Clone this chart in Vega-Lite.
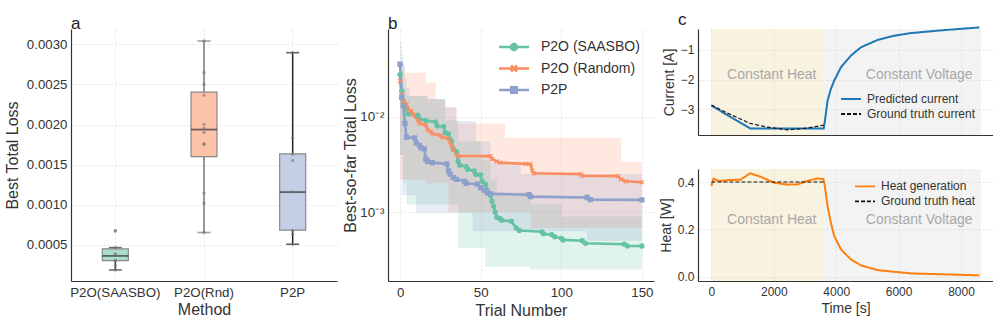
{
  "$schema": "https://vega.github.io/schema/vega-lite/v6.json",
  "background": "white",
  "padding": {"left": 4, "top": 10, "right": 0, "bottom": 0},
  "spacing": 5,
  "config": {
    "font": "Liberation Sans",
    "view": {"stroke": null},
    "axis": {
      "domainColor": "#333333", "domainWidth": 1.2, "ticks": false,
      "labelColor": "#333333", "titleColor": "#333333",
      "labelFont": "Liberation Sans", "titleFont": "Liberation Sans",
      "titleFontWeight": "normal", "labelFontSize": 13.3, "titleFontSize": 16,
      "gridColor": "#dddddd", "gridDash": [2, 2], "gridWidth": 0.8
    },
    "title": {"font": "Liberation Sans", "fontSize": 17, "fontWeight": "normal", "color": "#222222", "anchor": "start"}
  },
  "datasets": {
    "boxes": [
      {"method": "P2O(SAASBO)", "lo": 0.000188, "q1": 0.000304, "med": 0.000363, "q3": 0.00045, "hi": 0.000466},
      {"method": "P2O(Rnd)", "lo": 0.000654, "q1": 0.0016, "med": 0.001937, "q3": 0.002404, "hi": 0.00304},
      {"method": "P2P", "lo": 0.000508, "q1": 0.000683, "med": 0.001158, "q3": 0.001633, "hi": 0.002895}
    ],
    "runs": [
      {"method": "P2O(SAASBO)", "loss": 0.000675}, {"method": "P2O(SAASBO)", "loss": 0.000672},
      {"method": "P2O(SAASBO)", "loss": 0.000466}, {"method": "P2O(SAASBO)", "loss": 0.00039},
      {"method": "P2O(SAASBO)", "loss": 0.00037}, {"method": "P2O(SAASBO)", "loss": 0.00031},
      {"method": "P2O(SAASBO)", "loss": 0.0003}, {"method": "P2O(SAASBO)", "loss": 0.000241},
      {"method": "P2O(SAASBO)", "loss": 0.000188},
      {"method": "P2O(Rnd)", "loss": 0.00304}, {"method": "P2O(Rnd)", "loss": 0.002645},
      {"method": "P2O(Rnd)", "loss": 0.0025}, {"method": "P2O(Rnd)", "loss": 0.002366},
      {"method": "P2O(Rnd)", "loss": 0.002}, {"method": "P2O(Rnd)", "loss": 0.00195},
      {"method": "P2O(Rnd)", "loss": 0.0019}, {"method": "P2O(Rnd)", "loss": 0.00176},
      {"method": "P2O(Rnd)", "loss": 0.00175}, {"method": "P2O(Rnd)", "loss": 0.001145},
      {"method": "P2O(Rnd)", "loss": 0.00102}, {"method": "P2O(Rnd)", "loss": 0.000654},
      {"method": "P2P", "loss": 0.002895}, {"method": "P2P", "loss": 0.001833},
      {"method": "P2P", "loss": 0.00163}, {"method": "P2P", "loss": 0.00155},
      {"method": "P2P", "loss": 0.00116}, {"method": "P2P", "loss": 0.00068},
      {"method": "P2P", "loss": 0.00063}, {"method": "P2P", "loss": 0.000508}
    ],
    "trace": [
      {"method": "P2O (SAASBO)", "trial": 0, "loss": 0.0276},
      {"method": "P2O (SAASBO)", "trial": 1, "loss": 0.0185},
      {"method": "P2O (SAASBO)", "trial": 2, "loss": 0.0146},
      {"method": "P2O (SAASBO)", "trial": 3, "loss": 0.0125},
      {"method": "P2O (SAASBO)", "trial": 5, "loss": 0.0107},
      {"method": "P2O (SAASBO)", "trial": 11, "loss": 0.0104},
      {"method": "P2O (SAASBO)", "trial": 12, "loss": 0.0095},
      {"method": "P2O (SAASBO)", "trial": 16, "loss": 0.0091},
      {"method": "P2O (SAASBO)", "trial": 22, "loss": 0.0088},
      {"method": "P2O (SAASBO)", "trial": 23, "loss": 0.008},
      {"method": "P2O (SAASBO)", "trial": 27, "loss": 0.0079},
      {"method": "P2O (SAASBO)", "trial": 28, "loss": 0.0068},
      {"method": "P2O (SAASBO)", "trial": 30, "loss": 0.0066},
      {"method": "P2O (SAASBO)", "trial": 31, "loss": 0.0058},
      {"method": "P2O (SAASBO)", "trial": 32, "loss": 0.0055},
      {"method": "P2O (SAASBO)", "trial": 33, "loss": 0.0046},
      {"method": "P2O (SAASBO)", "trial": 35, "loss": 0.0043},
      {"method": "P2O (SAASBO)", "trial": 36, "loss": 0.0034},
      {"method": "P2O (SAASBO)", "trial": 37, "loss": 0.0031},
      {"method": "P2O (SAASBO)", "trial": 41, "loss": 0.003},
      {"method": "P2O (SAASBO)", "trial": 42, "loss": 0.0028},
      {"method": "P2O (SAASBO)", "trial": 46, "loss": 0.0027},
      {"method": "P2O (SAASBO)", "trial": 47, "loss": 0.00248},
      {"method": "P2O (SAASBO)", "trial": 50, "loss": 0.00245},
      {"method": "P2O (SAASBO)", "trial": 51, "loss": 0.0021},
      {"method": "P2O (SAASBO)", "trial": 53, "loss": 0.00195},
      {"method": "P2O (SAASBO)", "trial": 54, "loss": 0.0017},
      {"method": "P2O (SAASBO)", "trial": 56, "loss": 0.0015},
      {"method": "P2O (SAASBO)", "trial": 57, "loss": 0.0013},
      {"method": "P2O (SAASBO)", "trial": 58, "loss": 0.00115},
      {"method": "P2O (SAASBO)", "trial": 59, "loss": 0.001},
      {"method": "P2O (SAASBO)", "trial": 60, "loss": 0.00088},
      {"method": "P2O (SAASBO)", "trial": 62, "loss": 0.00085},
      {"method": "P2O (SAASBO)", "trial": 63, "loss": 0.00082},
      {"method": "P2O (SAASBO)", "trial": 69, "loss": 0.0008},
      {"method": "P2O (SAASBO)", "trial": 72, "loss": 0.00068},
      {"method": "P2O (SAASBO)", "trial": 74, "loss": 0.00064},
      {"method": "P2O (SAASBO)", "trial": 88, "loss": 0.00062},
      {"method": "P2O (SAASBO)", "trial": 89, "loss": 0.00059},
      {"method": "P2O (SAASBO)", "trial": 94, "loss": 0.00058},
      {"method": "P2O (SAASBO)", "trial": 96, "loss": 0.00055},
      {"method": "P2O (SAASBO)", "trial": 100, "loss": 0.00053},
      {"method": "P2O (SAASBO)", "trial": 101, "loss": 0.00051},
      {"method": "P2O (SAASBO)", "trial": 113, "loss": 0.0005},
      {"method": "P2O (SAASBO)", "trial": 115, "loss": 0.00047},
      {"method": "P2O (SAASBO)", "trial": 139, "loss": 0.00046},
      {"method": "P2O (SAASBO)", "trial": 141, "loss": 0.00044},
      {"method": "P2O (SAASBO)", "trial": 150, "loss": 0.00044},
      {"method": "P2O (Random)", "trial": 0, "loss": 0.0237},
      {"method": "P2O (Random)", "trial": 1, "loss": 0.017},
      {"method": "P2O (Random)", "trial": 2, "loss": 0.0145},
      {"method": "P2O (Random)", "trial": 4, "loss": 0.0135},
      {"method": "P2O (Random)", "trial": 5, "loss": 0.012},
      {"method": "P2O (Random)", "trial": 7, "loss": 0.0115},
      {"method": "P2O (Random)", "trial": 8, "loss": 0.0105},
      {"method": "P2O (Random)", "trial": 11, "loss": 0.0092},
      {"method": "P2O (Random)", "trial": 12, "loss": 0.0085},
      {"method": "P2O (Random)", "trial": 16, "loss": 0.0082},
      {"method": "P2O (Random)", "trial": 17, "loss": 0.0073},
      {"method": "P2O (Random)", "trial": 19, "loss": 0.007},
      {"method": "P2O (Random)", "trial": 20, "loss": 0.0066},
      {"method": "P2O (Random)", "trial": 25, "loss": 0.0064},
      {"method": "P2O (Random)", "trial": 26, "loss": 0.0061},
      {"method": "P2O (Random)", "trial": 30, "loss": 0.0059},
      {"method": "P2O (Random)", "trial": 31, "loss": 0.0054},
      {"method": "P2O (Random)", "trial": 32, "loss": 0.005},
      {"method": "P2O (Random)", "trial": 33, "loss": 0.0045},
      {"method": "P2O (Random)", "trial": 35, "loss": 0.004},
      {"method": "P2O (Random)", "trial": 36, "loss": 0.00388},
      {"method": "P2O (Random)", "trial": 56, "loss": 0.00386},
      {"method": "P2O (Random)", "trial": 57, "loss": 0.0036},
      {"method": "P2O (Random)", "trial": 60, "loss": 0.0034},
      {"method": "P2O (Random)", "trial": 62, "loss": 0.0033},
      {"method": "P2O (Random)", "trial": 78, "loss": 0.0032},
      {"method": "P2O (Random)", "trial": 81, "loss": 0.00318},
      {"method": "P2O (Random)", "trial": 82, "loss": 0.0027},
      {"method": "P2O (Random)", "trial": 83, "loss": 0.00255},
      {"method": "P2O (Random)", "trial": 112, "loss": 0.0025},
      {"method": "P2O (Random)", "trial": 113, "loss": 0.0024},
      {"method": "P2O (Random)", "trial": 135, "loss": 0.00238},
      {"method": "P2O (Random)", "trial": 137, "loss": 0.0022},
      {"method": "P2O (Random)", "trial": 140, "loss": 0.0021},
      {"method": "P2O (Random)", "trial": 150, "loss": 0.00205},
      {"method": "P2P", "trial": 0, "loss": 0.0355},
      {"method": "P2P", "trial": 1, "loss": 0.016},
      {"method": "P2P", "trial": 2, "loss": 0.013},
      {"method": "P2P", "trial": 3, "loss": 0.0085},
      {"method": "P2P", "trial": 4, "loss": 0.0061},
      {"method": "P2P", "trial": 9, "loss": 0.006},
      {"method": "P2P", "trial": 10, "loss": 0.0053},
      {"method": "P2P", "trial": 12, "loss": 0.005},
      {"method": "P2P", "trial": 13, "loss": 0.0047},
      {"method": "P2P", "trial": 15, "loss": 0.0046},
      {"method": "P2P", "trial": 16, "loss": 0.0036},
      {"method": "P2P", "trial": 17, "loss": 0.0034},
      {"method": "P2P", "trial": 20, "loss": 0.0033},
      {"method": "P2P", "trial": 29, "loss": 0.0032},
      {"method": "P2P", "trial": 30, "loss": 0.0027},
      {"method": "P2P", "trial": 31, "loss": 0.0025},
      {"method": "P2P", "trial": 33, "loss": 0.0023},
      {"method": "P2P", "trial": 35, "loss": 0.0022},
      {"method": "P2P", "trial": 40, "loss": 0.0021},
      {"method": "P2P", "trial": 41, "loss": 0.002},
      {"method": "P2P", "trial": 48, "loss": 0.00196},
      {"method": "P2P", "trial": 50, "loss": 0.0018},
      {"method": "P2P", "trial": 52, "loss": 0.0017},
      {"method": "P2P", "trial": 54, "loss": 0.0016},
      {"method": "P2P", "trial": 56, "loss": 0.00155},
      {"method": "P2P", "trial": 80, "loss": 0.00152},
      {"method": "P2P", "trial": 81, "loss": 0.00145},
      {"method": "P2P", "trial": 116, "loss": 0.00142},
      {"method": "P2P", "trial": 118, "loss": 0.00135},
      {"method": "P2P", "trial": 150, "loss": 0.00134}
    ],
    "bands": [
      {"method": "P2O (SAASBO)", "trial": 0, "lo": 0.004, "hi": 0.03},
      {"method": "P2O (SAASBO)", "trial": 2, "lo": 0.002, "hi": 0.02},
      {"method": "P2O (SAASBO)", "trial": 4, "lo": 0.0012, "hi": 0.0165},
      {"method": "P2O (SAASBO)", "trial": 17, "lo": 0.0012, "hi": 0.0153},
      {"method": "P2O (SAASBO)", "trial": 28, "lo": 0.0012, "hi": 0.0092},
      {"method": "P2O (SAASBO)", "trial": 36, "lo": 0.00042, "hi": 0.0055},
      {"method": "P2O (SAASBO)", "trial": 50, "lo": 0.00042, "hi": 0.0035},
      {"method": "P2O (SAASBO)", "trial": 53, "lo": 0.000266, "hi": 0.0035},
      {"method": "P2O (SAASBO)", "trial": 56, "lo": 0.000266, "hi": 0.0022},
      {"method": "P2O (SAASBO)", "trial": 60, "lo": 0.000266, "hi": 0.0016},
      {"method": "P2O (SAASBO)", "trial": 81, "lo": 0.00025, "hi": 0.0012},
      {"method": "P2O (SAASBO)", "trial": 100, "lo": 0.00025, "hi": 0.0009},
      {"method": "P2O (SAASBO)", "trial": 150, "lo": 0.00025, "hi": 0.0009},
      {"method": "P2O (Random)", "trial": 0, "lo": 0.0022, "hi": 0.033},
      {"method": "P2O (Random)", "trial": 3, "lo": 0.0022, "hi": 0.029},
      {"method": "P2O (Random)", "trial": 16, "lo": 0.002, "hi": 0.0227},
      {"method": "P2O (Random)", "trial": 22, "lo": 0.002, "hi": 0.015},
      {"method": "P2O (Random)", "trial": 28, "lo": 0.002, "hi": 0.0125},
      {"method": "P2O (Random)", "trial": 30, "lo": 0.001, "hi": 0.0125},
      {"method": "P2O (Random)", "trial": 35, "lo": 0.001, "hi": 0.0085},
      {"method": "P2O (Random)", "trial": 65, "lo": 0.001, "hi": 0.006},
      {"method": "P2O (Random)", "trial": 81, "lo": 0.00068, "hi": 0.006},
      {"method": "P2O (Random)", "trial": 137, "lo": 0.00068, "hi": 0.00335},
      {"method": "P2O (Random)", "trial": 150, "lo": 0.00068, "hi": 0.00335},
      {"method": "P2P", "trial": 0, "lo": 0.004, "hi": 0.062},
      {"method": "P2P", "trial": 1, "lo": 0.0015, "hi": 0.045},
      {"method": "P2P", "trial": 2, "lo": 0.0015, "hi": 0.035},
      {"method": "P2P", "trial": 3, "lo": 0.0015, "hi": 0.025},
      {"method": "P2P", "trial": 4, "lo": 0.0015, "hi": 0.02},
      {"method": "P2P", "trial": 6, "lo": 0.0015, "hi": 0.0166},
      {"method": "P2P", "trial": 10, "lo": 0.00098, "hi": 0.0166},
      {"method": "P2P", "trial": 17, "lo": 0.00098, "hi": 0.0153},
      {"method": "P2P", "trial": 28, "lo": 0.00098, "hi": 0.0126},
      {"method": "P2P", "trial": 35, "lo": 0.00098, "hi": 0.009},
      {"method": "P2P", "trial": 45, "lo": 0.00063, "hi": 0.009},
      {"method": "P2P", "trial": 47, "lo": 0.00063, "hi": 0.0055},
      {"method": "P2P", "trial": 56, "lo": 0.00063, "hi": 0.0033},
      {"method": "P2P", "trial": 75, "lo": 0.00063, "hi": 0.0025},
      {"method": "P2P", "trial": 116, "lo": 0.0005, "hi": 0.0025},
      {"method": "P2P", "trial": 150, "lo": 0.0005, "hi": 0.0025}
    ],
    "phases": [
      {"phase": "Constant Heat", "start": 0, "end": 3600},
      {"phase": "Constant Voltage", "start": 3600, "end": 8640}
    ],
    "annot": [
      {"panel": "current", "label": "Constant Heat", "time": 500, "value": -1.85},
      {"panel": "current", "label": "Constant Voltage", "time": 4950, "value": -1.85},
      {"panel": "heat", "label": "Constant Heat", "time": 500, "value": 0.24},
      {"panel": "heat", "label": "Constant Voltage", "time": 4950, "value": 0.24}
    ],
    "current": [
      {"series": "Predicted current", "time": 0, "value": -2.875},
      {"series": "Predicted current", "time": 1240, "value": -3.64},
      {"series": "Predicted current", "time": 3600, "value": -3.64},
      {"series": "Predicted current", "time": 3630, "value": -3.45},
      {"series": "Predicted current", "time": 3660, "value": -3.2},
      {"series": "Predicted current", "time": 3722, "value": -2.71},
      {"series": "Predicted current", "time": 3829, "value": -2.31},
      {"series": "Predicted current", "time": 3936, "value": -2.03},
      {"series": "Predicted current", "time": 4150, "value": -1.585},
      {"series": "Predicted current", "time": 4470, "value": -1.19},
      {"series": "Predicted current", "time": 4791, "value": -0.91},
      {"series": "Predicted current", "time": 5326, "value": -0.66},
      {"series": "Predicted current", "time": 5861, "value": -0.52},
      {"series": "Predicted current", "time": 6396, "value": -0.43},
      {"series": "Predicted current", "time": 7465, "value": -0.33},
      {"series": "Predicted current", "time": 8588, "value": -0.24},
      {"series": "Ground truth current", "time": 0, "value": -2.85},
      {"series": "Ground truth current", "time": 500, "value": -3.12},
      {"series": "Ground truth current", "time": 1240, "value": -3.47},
      {"series": "Ground truth current", "time": 1800, "value": -3.6},
      {"series": "Ground truth current", "time": 2440, "value": -3.69},
      {"series": "Ground truth current", "time": 3080, "value": -3.63},
      {"series": "Ground truth current", "time": 3600, "value": -3.53}
    ],
    "heat": [
      {"series": "Heat generation", "time": 0, "value": 0.383},
      {"series": "Heat generation", "time": 64, "value": 0.414},
      {"series": "Heat generation", "time": 245, "value": 0.404},
      {"series": "Heat generation", "time": 513, "value": 0.408},
      {"series": "Heat generation", "time": 940, "value": 0.41},
      {"series": "Heat generation", "time": 1240, "value": 0.437},
      {"series": "Heat generation", "time": 1582, "value": 0.422},
      {"series": "Heat generation", "time": 2010, "value": 0.397},
      {"series": "Heat generation", "time": 2439, "value": 0.389},
      {"series": "Heat generation", "time": 2760, "value": 0.39},
      {"series": "Heat generation", "time": 3081, "value": 0.405},
      {"series": "Heat generation", "time": 3402, "value": 0.415},
      {"series": "Heat generation", "time": 3582, "value": 0.413},
      {"series": "Heat generation", "time": 3615, "value": 0.4},
      {"series": "Heat generation", "time": 3722, "value": 0.299},
      {"series": "Heat generation", "time": 3829, "value": 0.228},
      {"series": "Heat generation", "time": 3936, "value": 0.172},
      {"series": "Heat generation", "time": 4150, "value": 0.116},
      {"series": "Heat generation", "time": 4470, "value": 0.073},
      {"series": "Heat generation", "time": 4791, "value": 0.048},
      {"series": "Heat generation", "time": 5326, "value": 0.028},
      {"series": "Heat generation", "time": 6396, "value": 0.014},
      {"series": "Heat generation", "time": 7465, "value": 0.01},
      {"series": "Heat generation", "time": 8588, "value": 0.006},
      {"series": "Ground truth heat", "time": 0, "value": 0.4},
      {"series": "Ground truth heat", "time": 3600, "value": 0.4}
    ]
  },
  "resolve": {"scale": {"x": "independent", "y": "independent", "color": "independent", "fill": "independent", "stroke": "independent", "shape": "independent", "strokeDash": "independent"}},
  "hconcat": [
    {
      "title": {"text": "a", "frame": "group", "offset": -4.3},
      "width": 266, "height": 252,
      "layer": [
        {
          "data": {"name": "boxes"},
          "mark": {"type": "rule", "strokeWidth": 1.5},
          "encoding": {
            "x": {"field": "method", "type": "nominal", "sort": ["P2O(SAASBO)", "P2O(Rnd)", "P2P"],
                  "scale": {"paddingInner": 0, "paddingOuter": 0},
                  "axis": {"title": "Method", "labelAngle": 0, "labelPadding": 4, "titlePadding": 3, "grid": true}},
            "y": {"field": "lo", "type": "quantitative", "scale": {"domain": [0.00005, 0.00319], "nice": false, "zero": false},
                  "axis": {"title": "Best Total Loss", "values": [0.0005, 0.001, 0.0015, 0.002, 0.0025, 0.003], "format": ".4f", "labelPadding": 4, "titlePadding": 6, "grid": true}},
            "y2": {"field": "hi"},
            "color": {"field": "method", "type": "nominal", "scale": {"domain": ["P2O(SAASBO)", "P2O(Rnd)", "P2P"], "range": ["#333333", "#777777", "#222222"]}, "legend": null}
          }
        },
        {
          "data": {"name": "boxes"},
          "mark": {"type": "tick", "size": 13, "thickness": 1.6},
          "encoding": {
            "x": {"field": "method", "type": "nominal", "sort": ["P2O(SAASBO)", "P2O(Rnd)", "P2P"]},
            "y": {"field": "lo", "type": "quantitative"},
            "color": {"field": "method", "type": "nominal", "legend": null}
          }
        },
        {
          "data": {"name": "boxes"},
          "mark": {"type": "tick", "size": 13, "thickness": 1.6},
          "encoding": {
            "x": {"field": "method", "type": "nominal", "sort": ["P2O(SAASBO)", "P2O(Rnd)", "P2P"]},
            "y": {"field": "hi", "type": "quantitative"},
            "color": {"field": "method", "type": "nominal", "legend": null}
          }
        },
        {
          "data": {"name": "boxes"},
          "mark": {"type": "bar", "size": 26, "stroke": "#888888", "strokeWidth": 1.2},
          "encoding": {
            "x": {"field": "method", "type": "nominal", "sort": ["P2O(SAASBO)", "P2O(Rnd)", "P2P"]},
            "y": {"field": "q1", "type": "quantitative"},
            "y2": {"field": "q3"},
            "fill": {"field": "method", "type": "nominal", "scale": {"domain": ["P2O(SAASBO)", "P2O(Rnd)", "P2P"], "range": ["#aadec9", "#fdc3a9", "#c4cfe6"]}, "legend": null}
          }
        },
        {
          "data": {"name": "boxes"},
          "mark": {"type": "tick", "size": 26, "thickness": 1.8, "color": "#333333"},
          "encoding": {
            "x": {"field": "method", "type": "nominal", "sort": ["P2O(SAASBO)", "P2O(Rnd)", "P2P"]},
            "y": {"field": "med", "type": "quantitative"}
          }
        },
        {
          "data": {"name": "runs"},
          "mark": {"type": "circle", "size": 12, "color": "#777777", "opacity": 0.6},
          "encoding": {
            "x": {"field": "method", "type": "nominal", "sort": ["P2O(SAASBO)", "P2O(Rnd)", "P2P"]},
            "y": {"field": "loss", "type": "quantitative"}
          }
        }
      ]
    },
    {
      "title": {"text": "b", "frame": "group", "offset": -4.3},
      "width": 266, "height": 252,
      "layer": [
        {
          "data": {"name": "bands"},
          "mark": {"type": "area", "interpolate": "step-after", "opacity": 0.2},
          "encoding": {
            "x": {"field": "trial", "type": "quantitative", "scale": {"domain": [-7.5, 157.5], "nice": false},
                  "axis": {"title": "Trial Number", "values": [0, 50, 100, 150], "labelPadding": 4, "titlePadding": 4, "grid": true}},
            "y": {"field": "lo", "type": "quantitative", "scale": {"type": "log", "domain": [0.000189, 0.0832], "nice": false},
                  "axis": {"title": "Best-so-far Total Loss", "values": [0.001, 0.01], "labelExpr": "datum.value > 0.005 ? '10⁻²' : '10⁻³'", "labelPadding": 4, "titlePadding": 1.5, "grid": true}},
            "y2": {"field": "hi"},
            "fill": {"field": "method", "type": "nominal", "scale": {"range": ["#fc8d62", "#66c2a5", "#8da0cb"]}, "legend": null}
          }
        },
        {
          "data": {"name": "trace"},
          "mark": {"type": "line", "strokeWidth": 2.6},
          "encoding": {
            "x": {"field": "trial", "type": "quantitative"},
            "y": {"field": "loss", "type": "quantitative"},
            "stroke": {"field": "method", "type": "nominal", "scale": {"domain": ["P2O (SAASBO)", "P2O (Random)", "P2P"], "range": ["#66c2a5", "#fc8d62", "#8da0cb"]},
              "legend": {"title": null, "orient": "none", "legendX": 119, "legendY": 11, "padding": 0,
                "symbolSize": 100, "symbolStrokeWidth": 2.5, "labelOffset": 20, "rowPadding": 5.5,
                "labelFont": "Liberation Sans", "labelFontSize": 14, "labelColor": "#333333",
                "encode": {"symbols": {"update": {
                  "shape": {"signal": "datum.value === 'P2O (SAASBO)' ? 'M-3,0H3M-0.6,0A0.6,0.6 0 1,0 0.6,0A0.6,0.6 0 1,0 -0.6,0Z' : datum.value === 'P2O (Random)' ? 'M-3,0H3M-0.6,-0.6L0.6,0.6M-0.6,0.6L0.6,-0.6' : 'M-3,0H3M-0.55,-0.55H0.55V0.55H-0.55Z'"},
                  "fill": {"signal": "datum.value === 'P2O (SAASBO)' ? '#66c2a5' : datum.value === 'P2O (Random)' ? '#fc8d62' : '#8da0cb'"}
                }}}}}
          }
        },
        {
          "data": {"name": "trace"},
          "mark": {"type": "point", "filled": true, "size": 16, "strokeWidth": 1.3, "opacity": 1},
          "encoding": {
            "x": {"field": "trial", "type": "quantitative"},
            "y": {"field": "loss", "type": "quantitative"},
            "fill": {"field": "method", "type": "nominal", "legend": null},
            "stroke": {"field": "method", "type": "nominal",
              "legend": {"title": null, "orient": "none", "legendX": 119, "legendY": 11, "padding": 0,
                "symbolSize": 100, "symbolStrokeWidth": 2.5, "labelOffset": 20, "rowPadding": 5.5,
                "labelFont": "Liberation Sans", "labelFontSize": 14, "labelColor": "#333333",
                "encode": {"symbols": {"update": {
                  "shape": {"signal": "datum.value === 'P2O (SAASBO)' ? 'M-3,0H3M-0.6,0A0.6,0.6 0 1,0 0.6,0A0.6,0.6 0 1,0 -0.6,0Z' : datum.value === 'P2O (Random)' ? 'M-3,0H3M-0.6,-0.6L0.6,0.6M-0.6,0.6L0.6,-0.6' : 'M-3,0H3M-0.55,-0.55H0.55V0.55H-0.55Z'"},
                  "fill": {"signal": "datum.value === 'P2O (SAASBO)' ? '#66c2a5' : datum.value === 'P2O (Random)' ? '#fc8d62' : '#8da0cb'"}
                }}}}},
            "shape": {"field": "method", "type": "nominal", "scale": {"range": ["M-1,-1L1,1M-1,1L1,-1", "circle", "square"]}, "legend": null}
          }
        }
      ]
    },
    {
      "resolve": {"scale": {"x": "independent", "y": "independent", "color": "independent", "fill": "independent", "strokeDash": "independent"}},
      "spacing": 34,
      "vconcat": [
        {
          "title": {"text": "c", "frame": "group", "offset": -5.3, "dx": -20},
          "width": 295, "height": 106,
          "layer": [
            {
              "data": {"name": "phases"},
              "mark": {"type": "rect", "opacity": 0.3},
              "encoding": {
                "x": {"field": "start", "type": "quantitative", "scale": {"domain": [-430, 9025], "nice": false},
                      "axis": {"values": [0, 2000, 4000, 6000, 8000], "labels": false, "title": null, "grid": true}},
                "x2": {"field": "end"},
                "fill": {"field": "phase", "type": "nominal", "scale": {"domain": ["Constant Heat", "Constant Voltage"], "range": ["#e8d49b", "#d7d7d7"]}, "legend": null}
              }
            },
            {
              "data": {"name": "annot"},
              "transform": [{"filter": "datum.panel === 'current'"}],
              "mark": {"type": "text", "align": "left", "baseline": "middle", "fontSize": 14, "color": "#a8a8a8", "font": "Liberation Sans"},
              "encoding": {
                "x": {"field": "time", "type": "quantitative"},
                "y": {"field": "value", "type": "quantitative", "scale": {"domain": [-3.862, -0.293], "nice": false, "zero": false},
                      "axis": {"title": "Current [A]", "values": [-3, -2, -1], "labelFontSize": 12, "titleFontSize": 14, "labelPadding": 4, "titlePadding": 4.3, "grid": true}},
                "text": {"field": "label"}
              }
            },
            {
              "data": {"name": "current"},
              "transform": [{"filter": "datum.series === 'Predicted current'"}],
              "mark": {"type": "line", "strokeWidth": 2},
              "encoding": {
                "x": {"field": "time", "type": "quantitative"},
                "y": {"field": "value", "type": "quantitative"},
                "color": {"field": "series", "type": "nominal", "scale": {"domain": ["Predicted current", "Ground truth current"], "range": ["#1f77b4", "#111111"]},
                  "legend": {"title": null, "orient": "none", "legendX": 147, "legendY": 64, "padding": 0, "symbolType": "M-2,0H2", "symbolSize": 100, "symbolStrokeWidth": 1.8, "labelOffset": 10, "rowPadding": 3, "labelFontSize": 12, "labelColor": "#333333"}},
                "strokeDash": {"field": "series", "type": "nominal", "scale": {"domain": ["Predicted current", "Ground truth current"], "range": [[1, 0], [4, 2]]},
                  "legend": {"title": null, "orient": "none", "legendX": 147, "legendY": 64, "padding": 0, "symbolType": "M-2,0H2", "symbolSize": 100, "symbolStrokeWidth": 1.8, "labelOffset": 10, "rowPadding": 3, "labelFontSize": 12, "labelColor": "#333333"}}
              }
            },
            {
              "data": {"name": "current"},
              "transform": [{"filter": "datum.series === 'Ground truth current'"}],
              "mark": {"type": "line", "strokeWidth": 1.2},
              "encoding": {
                "x": {"field": "time", "type": "quantitative"},
                "y": {"field": "value", "type": "quantitative"},
                "color": {"field": "series", "type": "nominal",
                  "legend": {"title": null, "orient": "none", "legendX": 147, "legendY": 64, "padding": 0, "symbolType": "M-2,0H2", "symbolSize": 100, "symbolStrokeWidth": 1.8, "labelOffset": 10, "rowPadding": 3, "labelFontSize": 12, "labelColor": "#333333"}},
                "strokeDash": {"field": "series", "type": "nominal",
                  "legend": {"title": null, "orient": "none", "legendX": 147, "legendY": 64, "padding": 0, "symbolType": "M-2,0H2", "symbolSize": 100, "symbolStrokeWidth": 1.8, "labelOffset": 10, "rowPadding": 3, "labelFontSize": 12, "labelColor": "#333333"}}
              }
            }
          ]
        },
        {
          "width": 295, "height": 112,
          "layer": [
            {
              "data": {"name": "phases"},
              "mark": {"type": "rect", "opacity": 0.3},
              "encoding": {
                "x": {"field": "start", "type": "quantitative", "scale": {"domain": [-430, 9025], "nice": false},
                      "axis": {"values": [0, 2000, 4000, 6000, 8000], "format": "d", "title": "Time [s]", "labelFontSize": 12, "titleFontSize": 14, "labelPadding": 5, "titlePadding": 4, "grid": true}},
                "x2": {"field": "end"},
                "fill": {"field": "phase", "type": "nominal", "scale": {"domain": ["Constant Heat", "Constant Voltage"], "range": ["#e8d49b", "#d7d7d7"]}, "legend": null}
              }
            },
            {
              "data": {"name": "annot"},
              "transform": [{"filter": "datum.panel === 'heat'"}],
              "mark": {"type": "text", "align": "left", "baseline": "middle", "fontSize": 14, "color": "#a8a8a8", "font": "Liberation Sans"},
              "encoding": {
                "x": {"field": "time", "type": "quantitative"},
                "y": {"field": "value", "type": "quantitative", "scale": {"domain": [-0.018, 0.455], "nice": false, "zero": false},
                      "axis": {"title": "Heat [W]", "values": [0, 0.2, 0.4], "format": ".1f", "labelFontSize": 12, "titleFontSize": 14, "labelPadding": 4, "titlePadding": 4.3, "grid": true}},
                "text": {"field": "label"}
              }
            },
            {
              "data": {"name": "heat"},
              "transform": [{"filter": "datum.series === 'Heat generation'"}],
              "mark": {"type": "line", "strokeWidth": 2},
              "encoding": {
                "x": {"field": "time", "type": "quantitative"},
                "y": {"field": "value", "type": "quantitative"},
                "color": {"field": "series", "type": "nominal", "scale": {"domain": ["Heat generation", "Ground truth heat"], "range": ["#ff7f0e", "#111111"]},
                  "legend": {"title": null, "orient": "none", "legendX": 161, "legendY": 11.4, "padding": 0, "symbolType": "M-2,0H2", "symbolSize": 100, "symbolStrokeWidth": 1.8, "labelOffset": 10, "rowPadding": 3, "labelFontSize": 12, "labelColor": "#333333"}},
                "strokeDash": {"field": "series", "type": "nominal", "scale": {"domain": ["Heat generation", "Ground truth heat"], "range": [[1, 0], [4, 2]]},
                  "legend": {"title": null, "orient": "none", "legendX": 161, "legendY": 11.4, "padding": 0, "symbolType": "M-2,0H2", "symbolSize": 100, "symbolStrokeWidth": 1.8, "labelOffset": 10, "rowPadding": 3, "labelFontSize": 12, "labelColor": "#333333"}}
              }
            },
            {
              "data": {"name": "heat"},
              "transform": [{"filter": "datum.series === 'Ground truth heat'"}],
              "mark": {"type": "line", "strokeWidth": 1.2},
              "encoding": {
                "x": {"field": "time", "type": "quantitative"},
                "y": {"field": "value", "type": "quantitative"},
                "color": {"field": "series", "type": "nominal",
                  "legend": {"title": null, "orient": "none", "legendX": 161, "legendY": 11.4, "padding": 0, "symbolType": "M-2,0H2", "symbolSize": 100, "symbolStrokeWidth": 1.8, "labelOffset": 10, "rowPadding": 3, "labelFontSize": 12, "labelColor": "#333333"}},
                "strokeDash": {"field": "series", "type": "nominal",
                  "legend": {"title": null, "orient": "none", "legendX": 161, "legendY": 11.4, "padding": 0, "symbolType": "M-2,0H2", "symbolSize": 100, "symbolStrokeWidth": 1.8, "labelOffset": 10, "rowPadding": 3, "labelFontSize": 12, "labelColor": "#333333"}}
              }
            }
          ]
        }
      ]
    }
  ]
}
